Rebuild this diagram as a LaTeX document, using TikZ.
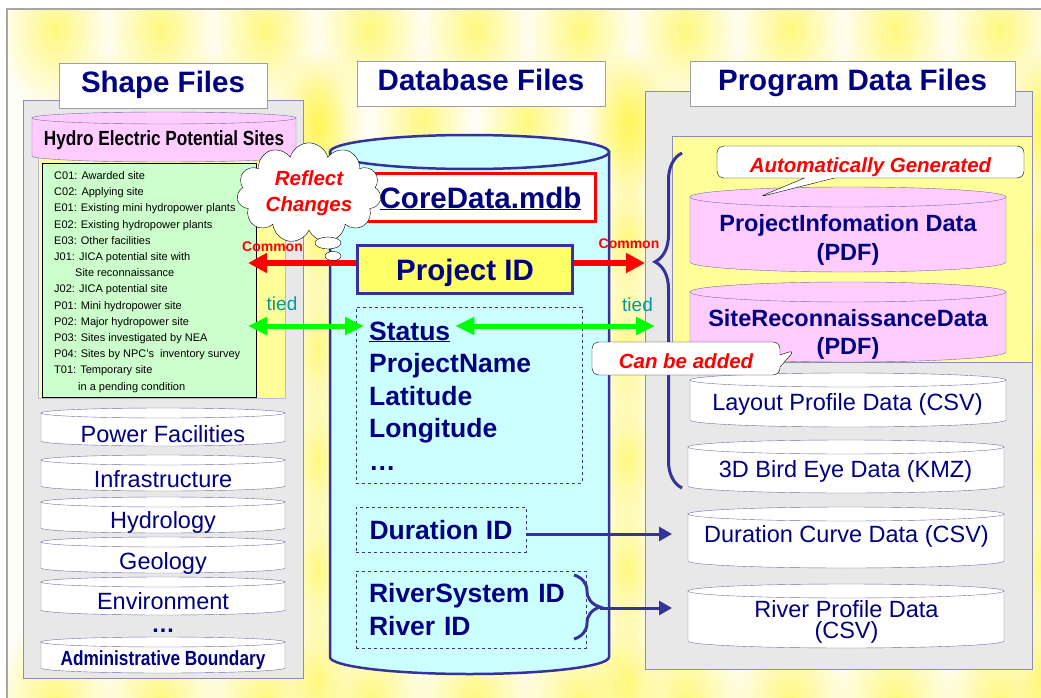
\documentclass[tikz,border=0pt]{standalone}
\usepackage{fontspec}
\setmainfont{Liberation Sans}
\usetikzlibrary{arrows.meta,positioning,shapes.symbols,shapes.callouts,decorations.pathreplacing,fadings}

\definecolor{navytext}{HTML}{000080}
\definecolor{dbedge}{HTML}{333399}
\definecolor{paneledge}{HTML}{8C8CB4}
\definecolor{panelgray}{HTML}{E8E8E8}
\definecolor{drumedge}{HTML}{6E6EA6}
\definecolor{pinkfill}{HTML}{FFCCFF}
\definecolor{cyanfill}{HTML}{CCFFFF}
\definecolor{listgreen}{HTML}{CCFFCC}
\definecolor{paleyel}{HTML}{FFFF99}
\definecolor{idyel}{HTML}{FFFF66}
\definecolor{tiedteal}{HTML}{009999}
\definecolor{linkgreen}{HTML}{00FF00}

\tikzfading[name=glow, inner color=transparent!30, outer color=transparent!100]

% drum: left x, right x, y of top face, y of bottom face, face half height, fill, edge
\newcommand\drum[7]{%
  \filldraw[fill=#6, draw=#7] (#1,#3) -- (#1,#4)
    arc[start angle=180, end angle=360, x radius={(#2-#1)/2*1pt}, y radius=#5pt]
    -- (#2,#3) -- cycle;
  \filldraw[fill=#6, draw=#7] ({(#1+#2)/2},#3) ellipse[x radius={(#2-#1)/2*1pt}, y radius=#5pt];
}

\begin{document}
\begin{tikzpicture}[x=1pt, y=-1pt,
    every node/.append style={text=navytext},
    titlebox/.style={draw=gray!75, fill=white, inner sep=0pt, text height=21pt, text depth=6pt,
      font=\fontsize{29.5}{32}\selectfont\bfseries},
    panel/.style={fill=panelgray, draw=paneledge, line width=.8pt},
    drumlabel/.style={inner sep=0pt, anchor=base, font=\fontsize{23.5}{26}\selectfont},
    pinklabel/.style={inner sep=0pt, align=center, font=\fontsize{23.5}{28.5}\selectfont\bfseries},
    field/.style={inner sep=0pt, anchor=base west, font=\fontsize{26.5}{33}\selectfont\bfseries},
    fieldbox/.style={draw=dbedge, dashed, line width=.7pt},
    remark/.style={text=red, font=\fontsize{20.5}{26}\selectfont\bfseries\itshape},
    common/.style={text=red, inner sep=0pt, anchor=base, font=\fontsize{14}{16}\selectfont\bfseries},
    tied/.style={text=tiedteal, inner sep=0pt, anchor=base, font=\fontsize{19}{22}\selectfont},
    redlink/.style={red, line width=6pt, -{Triangle[length=19pt,width=19pt]}},
    greenlink/.style={linkgreen, line width=5pt,
      {Triangle[length=19pt,width=17pt]}-{Triangle[length=19pt,width=17pt]}},
    navylink/.style={dbedge, line width=3pt, -{Triangle[length=13pt,width=14pt]}},
    say/.style={rectangle callout, draw=black, fill=white, rounded corners=7pt, inner sep=0pt,
      text height=20pt, text depth=0pt, remark},
    glowspot/.style={yellow!70, path fading=glow}]
  \useasboundingbox (0,0) rectangle (1041,698);

  % Background glow and frame
  \fill[white] (0,0) rectangle (1041,698);
  \begin{scope}
    \clip (7,9) rectangle (1041,698);
    \fill[yellow!4] (7,9) rectangle (1041,698);
    \foreach \gx in {55,160,...,1000} {
      \fill[glowspot] (\gx,30) ellipse[x radius=55pt, y radius=80pt];
      \fill[glowspot] ({\gx+52},120) ellipse[x radius=50pt, y radius=70pt];
      \fill[glowspot] (\gx,700) ellipse[x radius=60pt, y radius=80pt];
    }
    \foreach \gy in {130,240,...,680} {
      \fill[glowspot] (317,\gy) ellipse[x radius=30pt, y radius=80pt];
      \fill[glowspot] (627,\gy) ellipse[x radius=34pt, y radius=80pt];
      \fill[glowspot] (1041,\gy) ellipse[x radius=26pt, y radius=80pt];
    }
  \end{scope}
  \draw[gray!70, line width=1.5pt] (7,698) -- (7,9) -- (1041,9);

  % Shape files
  \filldraw[panel] (23,100) rectangle (303,678);
  \node[titlebox, minimum width=208pt, minimum height=45pt] (shapett) at (163,85.5) {Shape Files};
  \filldraw[fill=paleyel, draw=paneledge!60] (38,150) rectangle (285,398);
  \drum{32}{296}{118}{156}{6}{pinkfill}{drumedge}
  \node[inner sep=0pt, anchor=base, text=black, font=\fontsize{20.5}{24}\selectfont\bfseries]
    (hydro) at (164,146) {\scalebox{.84}[1]{Hydro Electric Potential Sites}};
  \filldraw[fill=listgreen, draw=black] (42,163) rectangle (256,397);
  \node[anchor=north west, inner sep=0pt, align=left, text=black, font=\fontsize{11}{16.2}\selectfont]
    (sitelist) at (54,171.3) {C01: Awarded site\\
      C02: Applying site\\
      E01: Existing mini hydropower plants\\
      E02: Existing hydropower plants\\
      E03: Other facilities\\
      J01: JICA potential site with\\
      \hspace*{21pt}Site reconnaissance\\
      J02: JICA potential site\\
      P01: Mini hydropower site\\
      P02: Major hydropower site\\
      P03: Sites investigated by NEA\\
      P04: Sites by NPC's\ \ inventory survey\\
      T01: Temporary site\\
      \hspace*{24pt}in a pending condition};

  \foreach \ta/\tb/\bl/\txt/\nm in {413/441/442/Power Facilities/powerfac,
      460/486/487/Infrastructure/infra, 502/528/528/Hydrology/hydrol,
      542/568/569/Geology/geol, 582/610/609/Environment/envir} {
    \drum{41}{285}{\ta}{\tb}{5}{white}{drumedge}
    \node[drumlabel] (\nm) at (163,\bl) {\txt};
  }
  \node[drumlabel, font=\fontsize{23.5}{26}\selectfont\bfseries] (moreshp) at (163,632) {…};
  \drum{41}{285}{642}{668}{5}{white}{drumedge}
  \node[inner sep=0pt, anchor=base, font=\fontsize{20.5}{24}\selectfont\bfseries]
    (adminb) at (163,665) {\scalebox{.84}[1]{Administrative Boundary}};

  % Database files
  \node[titlebox, minimum width=248pt, minimum height=45pt] (dbtt) at (481,83.5) {Database Files};
  \drum{330}{609}{152}{657}{17}{cyanfill}{dbedge, line width=2.5pt}
  \node[draw=red, line width=3pt, fill=white, minimum width=230pt, minimum height=48pt, inner sep=0pt,
    text height=21pt, text depth=0pt, font=\fontsize{29.5}{32}\selectfont\bfseries]
    (coredb) at (480.5,197.5) {\underline{CoreData.mdb}};
  \node[draw=dbedge, line width=3pt, fill=idyel, minimum width=215pt, minimum height=48pt, inner sep=0pt,
    text height=21pt, text depth=0pt, font=\fontsize{29.5}{32}\selectfont\bfseries]
    (pid) at (465,269.5) {Project ID};
  \node[fieldbox, minimum width=226pt, minimum height=176pt] (fields) at (469,395) {};
  \node[field, inner xsep=5pt] (status) at (364,340) {\underline{Status}};
  \node[field] (pname) at (369,372) {ProjectName};
  \node[field] (lat) at (369,405) {Latitude};
  \node[field] (lon) at (369,437) {Longitude};
  \node[field] (morefld) at (369,470) {…};
  \node[fieldbox, minimum width=170pt, minimum height=45pt, inner sep=0pt, text height=19pt, text depth=0pt,
    font=\fontsize{26.5}{33}\selectfont\bfseries] (durid) at (441,529.5) {Duration ID};
  \node[fieldbox, text width=204pt, align=left, minimum height=77pt, inner xsep=13pt,
    font=\fontsize{26.5}{33}\selectfont\bfseries] (rivids) at (471,609.5) {RiverSystem ID\\River ID};
  \draw[dbedge, line width=3pt, decorate, decoration={brace, amplitude=26pt}] (574,575) -- (574,639);
  \coordinate (rivtip) at (600,608);

  % Program data files
  \filldraw[panel] (645,91) rectangle (1032,669);
  \node[titlebox, minimum width=325pt, minimum height=45pt] (progtt) at (852.5,83.5) {Program Data Files};
  \filldraw[fill=paleyel, draw=paneledge] (672,136) rectangle (1032,362);
  \drum{690}{1006}{197}{262}{10}{pinkfill}{drumedge}
  \node[pinklabel] (pidata) at (848,240) {ProjectInfomation Data\\(PDF)};
  \drum{690}{1006}{292}{352}{10}{pinkfill}{drumedge}
  \node[pinklabel] (srdata) at (848,334.5) {SiteReconnaissanceData\\(PDF)};
  \drum{690}{1006}{380}{420}{7}{white}{drumedge}
  \node[drumlabel] (layout) at (847.5,410) {Layout Profile Data (CSV)};
  \drum{688}{1004}{447}{486}{7}{white}{drumedge}
  \node[drumlabel] (birdeye) at (845.5,477) {3D Bird Eye Data (KMZ)};
  \drum{688}{1004}{514}{561}{7}{white}{drumedge}
  \node[drumlabel] (durcurve) at (846.5,542) {Duration Curve Data (CSV)};
  \drum{688}{1004}{591}{641}{7}{white}{drumedge}
  \node[inner sep=0pt, align=center, font=\fontsize{23.5}{21.5}\selectfont] (rivprof) at (846.5,622)
    {River Profile Data\\(CSV)};
  \draw[dbedge, line width=3pt, decorate, decoration={brace, amplitude=27pt, aspect=.675}]
    (682,488) -- (682,153);
  \coordinate (bigtip) at (655,262);

  % Links
  \coordinate (cmL) at (248,263);
  \coordinate (cmR) at (645,263);
  \draw[redlink] ([yshift=6.5pt]pid.west) -- (cmL);
  \draw[redlink] ([yshift=6.5pt]pid.east) -- (cmR);
  \coordinate (tdL) at (248,326);
  \coordinate (tdR) at (655,326);
  \draw[greenlink] (tdL) -- (tdL -| status.west);
  \draw[greenlink] (tdL -| status.east) -- (tdR);
  \node[tied] (tiedL) at (282,310) {tied};
  \node[tied] (tiedR) at (637.5,311) {tied};
  \coordinate (durtip) at (672,534);
  \draw[navylink] (durid.east |- durtip) -- (durtip);
  \draw[navylink] (rivtip) -- (rivtip -| durtip);

  % Callouts
  \node[say, minimum width=307pt, minimum height=32pt, callout absolute pointer={(759,197)},
    callout pointer width=30pt] (autogen) at (870.5,162) {Automatically Generated};
  \node[say, minimum width=188pt, minimum height=33pt, callout absolute pointer={(795,350)},
    callout pointer width=12pt] (canadd) at (686,358.5) {Can be added};
  \node[cloud, cloud puffs=11, aspect=1.8, draw=black, fill=white, inner xsep=4pt, inner ysep=-1pt,
    align=center, remark] (reflect) at (309,193) {Reflect\\Changes};
  \filldraw[fill=white, draw=black] (328,243) ellipse[x radius=13pt, y radius=6pt];
  \filldraw[fill=white, draw=black] (333,256) ellipse[x radius=8pt, y radius=4.5pt];
  \node[common] (commonL) at (272.5,251) {Common};
  \node[common] (commonR) at (629,248) {Common};
\end{tikzpicture}
\end{document}
